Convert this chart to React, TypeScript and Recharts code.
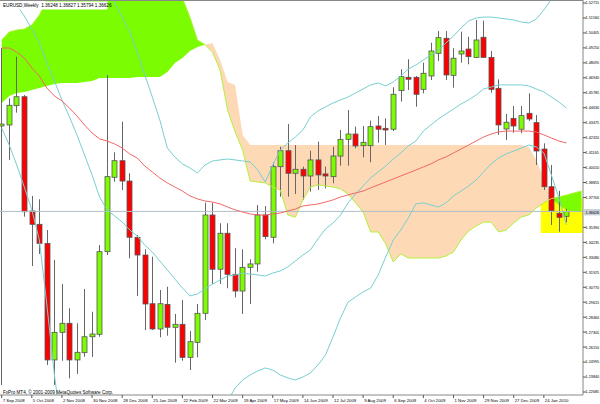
import React from "react";
import { ComposedChart, Bar, Line, Area, XAxis, YAxis, ReferenceLine, ReferenceArea } from "recharts";

const symbolTitle = "EURUSD,Weekly";
const copyright = "FxPro MT4, \u00A9 2001-2009 MetaQuotes Software Corp.";

const dateTickBars = [0, 4, 8, 12, 16, 20, 24, 28, 32, 36, 40, 44, 48, 52, 56, 60, 64, 68, 72];
const dateLabels = [
  "7 Sep 2008", "5 Oct 2008", "2 Nov 2008", "30 Nov 2008", "28 Dec 2008", "25 Jan 2009",
  "22 Feb 2009", "22 Mar 2009", "19 Apr 2009", "17 May 2009", "14 Jun 2009", "12 Jul 2009",
  "9 Aug 2009", "6 Sep 2009", "4 Oct 2009", "1 Nov 2009", "29 Nov 2009", "27 Dec 2009", "24 Jan 2010",
];
const priceTicks = [
  1.52715, 1.5156, 1.50405, 1.4925, 1.48095, 1.4694, 1.45785, 1.4463, 1.43475, 1.4232,
  1.41165, 1.4001, 1.38855, 1.377, 1.3539, 1.34235, 1.3308, 1.31925, 1.3077, 1.29615,
  1.2846, 1.27305, 1.2615, 1.24995, 1.2384, 1.22685,
];

const openP = [
  1.4322, 1.4330, 1.4479, 1.4548, 1.3666, 1.3563, 1.3416, 1.2516, 1.2729, 1.2799,
  1.2516, 1.2572, 1.2695, 1.2714, 1.3352, 1.3926, 1.4054, 1.3897, 1.3463, 1.3326,
  1.2950, 1.2755, 1.2945, 1.2768, 1.2791, 1.2536, 1.2652, 1.2876, 1.3635, 1.3216,
  1.3494, 1.3177, 1.3048, 1.3231, 1.3257, 1.3635, 1.3463, 1.4008, 1.4131, 1.3957,
  1.3988, 1.3936, 1.4060, 1.3952, 1.3931, 1.4090, 1.4219, 1.4260, 1.4170, 1.4170,
  1.4322, 1.4304, 1.4297, 1.4595, 1.4698, 1.4698, 1.4605, 1.4708, 1.4883, 1.4999,
  1.4713, 1.4878, 1.4916, 1.4852, 1.5007, 1.4852, 1.4613, 1.4299, 1.4381, 1.4297,
  1.4420, 1.4348, 1.4144, 1.3853, 1.3648, 1.36248,
];
const highP = [
  1.4924, 1.4536, 1.4857, 1.4561, 1.3782, 1.3756, 1.3519, 1.3288, 1.3102, 1.2915,
  1.2799, 1.3064, 1.2888, 1.3403, 1.4716, 1.4119, 1.4355, 1.3957, 1.3481, 1.3370,
  1.3313, 1.3056, 1.3081, 1.2871, 1.2979, 1.2739, 1.2948, 1.3730, 1.3730, 1.3571,
  1.3571, 1.3378, 1.3370, 1.3293, 1.3712, 1.3704, 1.4042, 1.4162, 1.4337, 1.4175,
  1.4008, 1.4131, 1.4201, 1.4008, 1.4162, 1.4291, 1.4445, 1.4317, 1.4322, 1.4363,
  1.4399, 1.4381, 1.4621, 1.4760, 1.4837, 1.4708, 1.4811, 1.4965, 1.5055, 1.5055,
  1.4922, 1.5050, 1.5011, 1.5140, 1.5135, 1.4901, 1.4682, 1.4415, 1.4476, 1.4476,
  1.4574, 1.4407, 1.4188, 1.4021, 1.3822, 1.36827,
];
const lowP = [
  1.2322, 1.4060, 1.4425, 1.3622, 1.3241, 1.3334, 1.2477, 1.2323, 1.2510, 1.2374,
  1.2408, 1.2541, 1.2539, 1.2695, 1.3326, 1.3892, 1.3828, 1.3301, 1.3010, 1.2747,
  1.2747, 1.2691, 1.2703, 1.2495, 1.2510, 1.2438, 1.2536, 1.2824, 1.3102, 1.3102,
  1.3069, 1.2999, 1.2871, 1.2948, 1.3197, 1.3447, 1.3416, 1.3776, 1.3776, 1.3797,
  1.3751, 1.3815, 1.3828, 1.3841, 1.3880, 1.4016, 1.4016, 1.4150, 1.4080, 1.4042,
  1.4193, 1.4175, 1.4283, 1.4510, 1.4600, 1.4471, 1.4574, 1.4677, 1.4824, 1.4677,
  1.4618, 1.4811, 1.4798, 1.4847, 1.4847, 1.4579, 1.4253, 1.4214, 1.4270, 1.4266,
  1.4361, 1.4021, 1.3828, 1.3558, 1.3506, 1.35794,
];
const closeP = [
  1.4337, 1.4482, 1.4548, 1.3660, 1.3563, 1.3416, 1.2516, 1.2729, 1.2799, 1.2516,
  1.2575, 1.2695, 1.2716, 1.3352, 1.3931, 1.4054, 1.3897, 1.3463, 1.3326, 1.2948,
  1.2755, 1.2950, 1.2768, 1.2791, 1.2536, 1.2657, 1.2876, 1.3635, 1.3216, 1.3494,
  1.3177, 1.3048, 1.3231, 1.3257, 1.3635, 1.3468, 1.4008, 1.4131, 1.3957, 1.3988,
  1.3936, 1.4060, 1.3944, 1.3936, 1.4090, 1.4219, 1.4260, 1.4168, 1.4196, 1.4317,
  1.4297, 1.4291, 1.4567, 1.4703, 1.4683, 1.4567, 1.4729, 1.4901, 1.5004, 1.4716,
  1.4845, 1.4901, 1.4857, 1.4986, 1.4852, 1.4605, 1.4330, 1.4351, 1.4322, 1.4402,
  1.4376, 1.4129, 1.3853, 1.3668, 1.3617, 1.36626,
];

const maRed = [
  1.4924, 1.4924, 1.4893, 1.4847, 1.4770, 1.4708, 1.4615, 1.4554, 1.4515, 1.4461,
  1.4399, 1.4330, 1.4268, 1.4222, 1.4206, 1.4183, 1.4152, 1.4106, 1.4075, 1.4013,
  1.3967, 1.3921, 1.3882, 1.3851, 1.3820, 1.3782, 1.3759, 1.3743, 1.3735, 1.3720,
  1.3697, 1.3674, 1.3658, 1.3643, 1.3635, 1.3635, 1.3643, 1.3650, 1.3666, 1.3681,
  1.3705, 1.3712, 1.3720, 1.3735, 1.3751, 1.3774, 1.3790, 1.3805, 1.3820, 1.3844,
  1.3867, 1.3890, 1.3913, 1.3936, 1.3959, 1.3982, 1.4006, 1.4029, 1.4060, 1.4083,
  1.4114, 1.4144, 1.4175, 1.4206, 1.4237, 1.4260, 1.4276, 1.4283, 1.4283, 1.4283,
  1.4283, 1.4276, 1.4253, 1.4229, 1.4206, 1.4191,
];
const bbUpper = [
  1.600, 1.598, 1.595, 1.592, 1.590, 1.588, 1.585, 1.582, 1.578, 1.574,
  1.570, 1.566, 1.560, 1.550, 1.539, 1.5272, 1.5163, 1.5048, 1.4893, 1.4716,
  1.4546, 1.4368, 1.4152, 1.4083, 1.4029, 1.3998, 1.3959, 1.4021, 1.4052, 1.4060,
  1.4067, 1.4060, 1.4052, 1.4044, 1.3982, 1.3890, 1.4021, 1.4137, 1.4191, 1.4237,
  1.4291, 1.4392, 1.4438, 1.4469, 1.4500, 1.4523, 1.4546, 1.4577, 1.4608, 1.4639,
  1.4654, 1.4631, 1.4662, 1.4708, 1.4762, 1.4793, 1.4832, 1.4870, 1.4909, 1.4963,
  1.5017, 1.5079, 1.5133, 1.5156, 1.5163, 1.5163, 1.5156, 1.5148, 1.5140, 1.5125,
  1.5117, 1.5148, 1.5218, 1.5300, 1.5326, 1.5364,
];
const bbMid = [
  1.5465, 1.5357, 1.5256, 1.5171, 1.5071, 1.4963, 1.4808, 1.4669, 1.4523, 1.4392,
  1.4253, 1.4098, 1.3944, 1.3774, 1.3674, 1.3627, 1.3581, 1.3519, 1.3473, 1.3403,
  1.3349, 1.3280, 1.3210, 1.3141, 1.3071, 1.3010, 1.3025, 1.3064, 1.3102, 1.3133,
  1.3164, 1.3172, 1.3187, 1.3179, 1.3172, 1.3164, 1.3187, 1.3203, 1.3234, 1.3280,
  1.3326, 1.3365, 1.3450, 1.3527, 1.3573, 1.3635, 1.3728, 1.3797, 1.3859, 1.3921,
  1.3967, 1.4013, 1.4067, 1.4114, 1.4168, 1.4206, 1.4283, 1.4330, 1.4376, 1.4415,
  1.4453, 1.4492, 1.4523, 1.4561, 1.4608, 1.4623, 1.4639, 1.4639, 1.4639, 1.4639,
  1.4631, 1.4608, 1.4585, 1.4546, 1.4507, 1.4461,
];
const bbLower = [
  1.4307, 1.4175, 1.4021, 1.3851, 1.3674, 1.3442, 1.2940, 1.2400, 1.1970, 1.1850,
  1.1750, 1.1700, 1.1680, 1.1700, 1.1750, 1.1800, 1.1850, 1.1900, 1.1950, 1.2000,
  1.2050, 1.2100, 1.2120, 1.2140, 1.2150, 1.2150, 1.2120, 1.2100, 1.2120, 1.2150,
  1.2200, 1.2299, 1.2361, 1.2400, 1.2431, 1.2454, 1.2438, 1.2400, 1.2377, 1.2361,
  1.2384, 1.2415, 1.2477, 1.2554, 1.2693, 1.2840, 1.2963, 1.3002, 1.3041, 1.3071,
  1.3172, 1.3311, 1.3442, 1.3519, 1.3612, 1.3720, 1.3728, 1.3712, 1.3697, 1.3728,
  1.3782, 1.3820, 1.3859, 1.3905, 1.3967, 1.4029, 1.4075, 1.4106, 1.4129, 1.4152,
  1.4175, 1.4160, 1.4114, 1.3944, 1.3767, 1.3558,
];
const spanA = [
  1.4986, 1.5048, 1.5063, 1.5071, 1.5102, 1.5179, 1.5295, 1.540, 1.548, 1.555,
  1.560, 1.563, 1.565, 1.566, 1.566, 1.565, 1.563, 1.560, 1.556, 1.552,
  1.548, 1.543, 1.538, 1.534, 1.531, 1.5163, 1.4986, 1.4950, 1.4893, 1.4754,
  1.4445, 1.4276, 1.4137, 1.3897, 1.3890, 1.3882, 1.3851, 1.3828, 1.3635, 1.3619,
  1.3751, 1.3851, 1.3867, 1.3859, 1.3851, 1.3836, 1.3797, 1.3728, 1.3658, 1.3504,
  1.3504, 1.3411, 1.3272, 1.3334, 1.3303, 1.3303, 1.3303, 1.3303, 1.3303, 1.3318,
  1.3349, 1.3442, 1.3511, 1.3550, 1.3580, 1.3580, 1.3504, 1.3519, 1.3573, 1.3619,
  1.3635, 1.3689, 1.3728, 1.3762, 1.3774, 1.3789, 1.3805, 1.3820,
];
const spanB = [
  1.4500, 1.4554, 1.4577, 1.4585, 1.4600, 1.4615, 1.4631, 1.4646, 1.4654, 1.4654,
  1.4654, 1.4662, 1.4669, 1.4693, 1.4693, 1.4693, 1.4693, 1.4693, 1.4700, 1.4700,
  1.4700, 1.4700, 1.4739, 1.4808, 1.4847, 1.4901, 1.4932, 1.4950, 1.4963, 1.4832,
  1.4662, 1.4639, 1.4252, 1.4175, 1.4175, 1.4175, 1.4175, 1.4175, 1.4175, 1.4175,
  1.4175, 1.4175, 1.4175, 1.4175, 1.4175, 1.4175, 1.4175, 1.4175, 1.4175, 1.4175,
  1.4175, 1.4175, 1.4175, 1.4175, 1.4175, 1.4175, 1.4175, 1.4175, 1.4175, 1.4175,
  1.4175, 1.4175, 1.4175, 1.4175, 1.4175, 1.4175, 1.4175, 1.4175, 1.4175, 1.4175,
  1.4160, 1.4060, 1.3921, 1.3762, 1.3712, 1.3674, 1.3658, 1.3658,
];
const highlightZone = { fromBar: 71.6, low: 1.3496, high: 1.3766 };

const W = 600;
const H = 404;
const Y_AXIS_W = 17;
const X_AXIS_H = 9;
const X_DOMAIN: [number, number] = [-0.226, 77.2];
const Y_DOMAIN: [number, number] = [1.22453, 1.52947];
const FONT = '"Liberation Sans", Arial, sans-serif';

const lastIdx = closeP.length - 1;
const lastPrice = closeP[lastIdx];

const data = spanA.map((a, i) => {
  const b = spanB[i];
  const has = i < openP.length;
  return {
    i,
    range: has ? [lowP[i], highP[i]] : null,
    o: has ? openP[i] : null,
    h: has ? highP[i] : null,
    l: has ? lowP[i] : null,
    c: has ? closeP[i] : null,
    ma: has ? maRed[i] : null,
    bbU: has ? bbUpper[i] : null,
    bbM: has ? bbMid[i] : null,
    bbL: has ? bbLower[i] : null,
    spanA: a,
    kumoUp: a >= b ? [b, a] : null,
    kumoDn: a <= b ? [a, b] : null,
  };
});

const Candle = (props: any) => {
  const { x, y, width, height, payload } = props;
  if (!payload || payload.o == null) return null;
  const { o, h, l, c } = payload;
  const top = Math.min(y, y + height);
  const span = Math.abs(height);
  const pxPer = span / (h - l);
  const yOf = (v: number) => top + (h - v) * pxPer;
  const cx = Math.round(x + width / 2) + 0.5;
  const bTop = yOf(Math.max(o, c));
  const bBot = yOf(Math.min(o, c));
  const up = c >= o;
  return (
    <g>
      <line x1={cx} x2={cx} y1={top} y2={top + span} stroke="#666" strokeWidth={1} />
      <rect
        x={cx - 2.5}
        y={bTop}
        width={5}
        height={Math.max(bBot - bTop, 1.2)}
        fill={up ? "#7CFC00" : "#FF0000"}
        stroke="#555"
        strokeWidth={0.8}
      />
    </g>
  );
};

const XTick = (props: any) => {
  const { x, y, payload } = props;
  const k = dateTickBars.indexOf(payload.value);
  return (
    <text x={x + 1} y={y + 4.2} fontSize={4.3} fill="#000" fontFamily={FONT}>
      {k >= 0 ? dateLabels[k] : ""}
    </text>
  );
};

const YTick = (props: any) => {
  const { x, y, payload } = props;
  return (
    <text x={x - 0.5} y={y + 1.4} fontSize={3.8} fill="#000" fontFamily={FONT}>
      {Number(payload.value).toFixed(5)}
    </text>
  );
};

export default function App() {
  const plotR = W - Y_AXIS_W;
  const header = `${symbolTitle}  ${openP[lastIdx].toFixed(5)} ${highP[lastIdx].toFixed(5)} ${lowP[lastIdx].toFixed(5)} ${closeP[lastIdx].toFixed(5)}`;
  return (
    <div style={{ position: "fixed", left: 0, top: 0, width: W, height: H, background: "#fff", overflow: "hidden" }}>
      <ComposedChart width={W} height={H} data={data} margin={{ top: 0, right: 0, bottom: 0, left: 0 }}>
        <XAxis
          dataKey="i"
          type="number"
          domain={X_DOMAIN}
          allowDataOverflow
          ticks={dateTickBars}
          interval={0}
          height={X_AXIS_H}
          tickSize={3}
          tickMargin={0}
          tickLine={{ stroke: "#555" }}
          axisLine={{ stroke: "#888" }}
          tick={<XTick />}
        />
        <YAxis
          orientation="right"
          type="number"
          domain={Y_DOMAIN}
          allowDataOverflow
          ticks={priceTicks}
          interval={0}
          width={Y_AXIS_W}
          tickSize={3}
          tickMargin={0}
          tickLine={{ stroke: "#555" }}
          axisLine={{ stroke: "#888" }}
          tick={<YTick />}
        />
        <ReferenceArea
          x1={highlightZone.fromBar}
          x2={X_DOMAIN[1]}
          y1={highlightZone.low}
          y2={highlightZone.high}
          fill="#FFFF00"
          fillOpacity={1}
          stroke="none"
          ifOverflow="hidden"
        />
        <Area dataKey="kumoDn" type="linear" fill="#FDD9B6" fillOpacity={1} stroke="none" isAnimationActive={false} dot={false} activeDot={false} />
        <Area dataKey="kumoUp" type="linear" fill="#7CFC00" fillOpacity={1} stroke="none" isAnimationActive={false} dot={false} activeDot={false} />
        <Line dataKey="spanA" type="linear" stroke="#B4F03C" strokeWidth={1} dot={false} activeDot={false} isAnimationActive={false} />
        <ReferenceLine y={lastPrice} stroke="#b3bdc7" strokeWidth={1} />
        <Bar dataKey="range" barSize={5} shape={<Candle />} isAnimationActive={false} />
        <Line dataKey="bbU" type="linear" stroke="#78cfcf" strokeWidth={1} dot={false} activeDot={false} isAnimationActive={false} />
        <Line dataKey="bbM" type="linear" stroke="#78cfcf" strokeWidth={1} dot={false} activeDot={false} isAnimationActive={false} />
        <Line dataKey="bbL" type="linear" stroke="#78cfcf" strokeWidth={1} dot={false} activeDot={false} isAnimationActive={false} />
        <Line dataKey="ma" type="linear" stroke="#f26868" strokeWidth={1} dot={false} activeDot={false} isAnimationActive={false} />
      </ComposedChart>
      <svg width={W} height={H} style={{ position: "absolute", left: 0, top: 0, pointerEvents: "none" }}>
        <line x1={0} y1={0.5} x2={plotR} y2={0.5} stroke="#888" strokeWidth={1} />
        <rect x={1.5} y={1.5} width={106} height={8} fill="#fff" />
        <text x={3} y={7.4} fontSize={4.6} fill="#000" fontFamily={FONT} style={{ whiteSpace: "pre" }}>
          {header}
        </text>
        <text x={3} y={393.5} fontSize={4.6} fill="#000" fontFamily={FONT}>
          {copyright}
        </text>
        <rect x={plotR + 1} y={209} width={W - plotR - 1} height={6.4} fill="#c9d1d9" />
        <text x={plotR + 2.5} y={213.5} fontSize={3.8} fill="#000" fontFamily={FONT}>
          {lastPrice.toFixed(5)}
        </text>
      </svg>
    </div>
  );
}
